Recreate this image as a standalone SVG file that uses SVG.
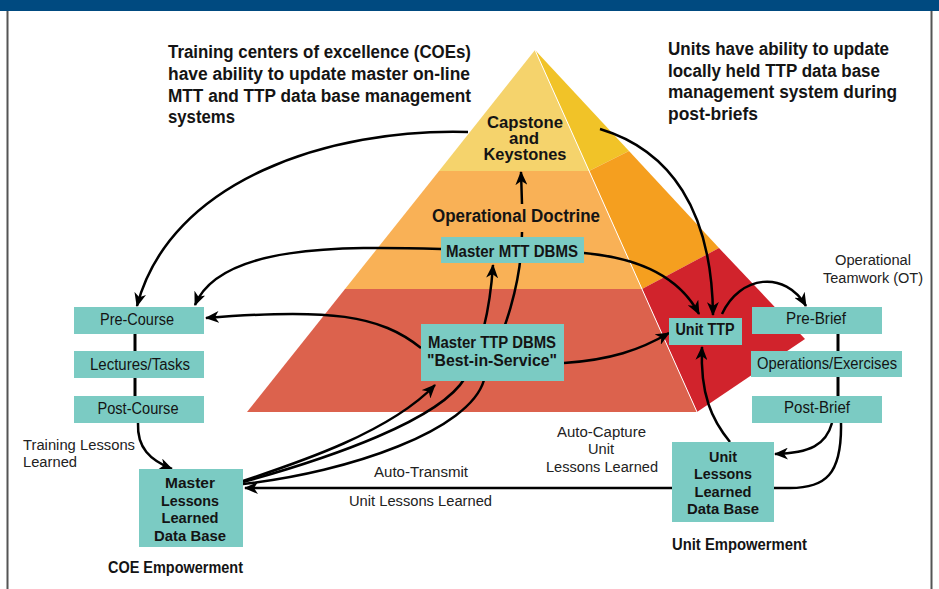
<svg xmlns="http://www.w3.org/2000/svg" width="939" height="589" viewBox="0 0 939 589">
  <defs>
    <marker id="arrow" viewBox="0 0 14 12" refX="13" refY="6" markerWidth="14" markerHeight="12" markerUnits="userSpaceOnUse" orient="auto">
      <path d="M0,0 L14,6 L0,12 L4,6 Z" fill="#000"/>
    </marker>
    <style>
      text { font-family: "Liberation Sans", Arial, sans-serif; fill: #141414; }
      .head { font-size: 18px; font-weight: bold; }
      .tier { font-size: 17px; font-weight: bold; text-anchor: middle; }
      .lbl { font-size: 16px; text-anchor: middle; }
      .lblb { font-size: 16px; font-weight: bold; text-anchor: middle; }
      .db { font-size: 15px; font-weight: bold; text-anchor: middle; }
      .note { font-size: 15.5px; fill: #222; }
      .notec { font-size: 15.5px; fill: #222; text-anchor: middle; }
      .box { fill: #7bcbc3; }
      .link { fill: none; stroke: #000; stroke-width: 2.5; }
      .arr { marker-end: url(#arrow); }
      .tie { stroke: #000; stroke-width: 3; }
    </style>
  </defs>

  <!-- page frame -->
  <rect x="0" y="0" width="939" height="589" fill="#fff"/>
  <rect x="0" y="0" width="939" height="11" fill="#004a80"/>
  <line x1="7.5" y1="11" x2="7.5" y2="589" stroke="#555" stroke-width="2"/>
  <line x1="931.5" y1="11" x2="931.5" y2="589" stroke="#555" stroke-width="2"/>

  <!-- pyramid -->
  <g id="pyramid">
    <polygon points="535,50 589,171 439,171" fill="#f5d36c"/>
    <polygon points="439,171 589,171 642,289 345,289" fill="#f9b156"/>
    <polygon points="345,289 642,289 697,412 247,412" fill="#dc624d"/>
    <polygon points="535,50 629,151 589,171" fill="#f1c328"/>
    <polygon points="589,171 629,151 719,248 642,289" fill="#f59f1f"/>
    <polygon points="642,289 719,248 805,339 697,412" fill="#d1232c"/>
    <line x1="535" y1="50" x2="697" y2="412" stroke="#fff" stroke-width="1"/>
  </g>

  <!-- headings -->
  <g id="coe-note">
    <text class="head" x="168" y="58" textLength="303" lengthAdjust="spacingAndGlyphs">Training centers of excellence (COEs)</text>
    <text class="head" x="168" y="80" textLength="302" lengthAdjust="spacingAndGlyphs">have ability to update master on-line</text>
    <text class="head" x="168" y="102" textLength="303" lengthAdjust="spacingAndGlyphs">MTT and TTP data base management</text>
    <text class="head" x="168" y="123" textLength="67" lengthAdjust="spacingAndGlyphs">systems</text>
  </g>
  <g id="unit-note">
    <text class="head" x="668" y="55" textLength="221" lengthAdjust="spacingAndGlyphs">Units have ability to update</text>
    <text class="head" x="668" y="77" textLength="212" lengthAdjust="spacingAndGlyphs">locally held TTP data base</text>
    <text class="head" x="668" y="98" textLength="229" lengthAdjust="spacingAndGlyphs">management system during</text>
    <text class="head" x="668" y="120" textLength="90" lengthAdjust="spacingAndGlyphs">post-briefs</text>
  </g>

  <g id="tier-capstone">
    <text class="tier" x="525" y="128" textLength="76" lengthAdjust="spacingAndGlyphs">Capstone</text>
    <text class="tier" x="524" y="144" textLength="30" lengthAdjust="spacingAndGlyphs">and</text>
    <text class="tier" x="525" y="160" textLength="83" lengthAdjust="spacingAndGlyphs">Keystones</text>
  </g>
  <g id="tier-doctrine">
    <text class="tier" x="516" y="222" style="font-size:18px" textLength="168" lengthAdjust="spacingAndGlyphs">Operational Doctrine</text>
  </g>

  <!-- connectors -->
  <g id="connectors">
    <path class="link arr" d="M468,132 C330,128 170,180 137,306"/>
    <path class="link arr" d="M441,249 C340,246 220,245 195,305"/>
    <path class="link arr" d="M421,348 C380,315 330,308 206,318"/>
    <path class="link arr" d="M243,481 C300,462 390,432 435,385"/>
    <path class="link arr" d="M243,482 C330,458 440,420 465,378 C480,350 490,310 493,265"/>
    <path class="link" d="M243,484 C350,472 470,430 484,380 C500,340 522,290 522,232"/>
    <path class="link arr" d="M522,204 L521,172"/>
    <path class="link arr" d="M584,253 C640,258 680,278 699,314"/>
    <path class="link arr" d="M600,129 C670,150 712,210 713,315"/>
    <path class="link arr" d="M722,314 C740,275 785,270 806,306"/>
    <path class="link arr" d="M564,363 C610,360 640,350 669,333"/>
    <path class="link arr" d="M832,423 C826,445 810,453 775,454"/>
    <path class="link arr" d="M841,423 C842,475 825,488 790,488 L245,488"/>
    <path class="link arr" d="M730,442 C712,420 700,395 702,347"/>
    <path class="link arr" d="M138,423 C137,448 150,460 172,469"/>
    <line class="tie" x1="135" y1="334" x2="135" y2="351"/>
    <line class="tie" x1="135" y1="378" x2="135" y2="396"/>
    <line class="tie" x1="838" y1="334" x2="838" y2="351"/>
    <line class="tie" x1="838" y1="377" x2="838" y2="396"/>
  </g>

  <!-- nodes -->
  <g id="master-mtt">
    <rect class="box" x="441" y="237" width="143" height="26"/>
    <text class="lblb" x="512" y="257" textLength="132" lengthAdjust="spacingAndGlyphs">Master MTT DBMS</text>
  </g>
  <g id="master-ttp">
    <rect class="box" x="421" y="324" width="143" height="57"/>
    <text class="lblb" x="492" y="348" textLength="128" lengthAdjust="spacingAndGlyphs">Master TTP DBMS</text>
    <text class="lblb" x="492" y="366" textLength="130" lengthAdjust="spacingAndGlyphs">"Best-in-Service"</text>
  </g>
  <g id="unit-ttp">
    <rect class="box" x="669" y="318" width="73" height="27"/>
    <text class="lblb" x="705" y="335" textLength="59" lengthAdjust="spacingAndGlyphs">Unit TTP</text>
  </g>
  <g id="pre-course">
    <rect class="box" x="74" y="307" width="130" height="27"/>
    <text class="lbl" x="137" y="325" textLength="74" lengthAdjust="spacingAndGlyphs">Pre-Course</text>
  </g>
  <g id="lectures">
    <rect class="box" x="74" y="351" width="130" height="27"/>
    <text class="lbl" x="140" y="370" textLength="100" lengthAdjust="spacingAndGlyphs">Lectures/Tasks</text>
  </g>
  <g id="post-course">
    <rect class="box" x="74" y="396" width="130" height="27"/>
    <text class="lbl" x="138" y="414" textLength="81" lengthAdjust="spacingAndGlyphs">Post-Course</text>
  </g>
  <g id="pre-brief">
    <rect class="box" x="752" y="307" width="130" height="27"/>
    <text class="lbl" x="816" y="324" textLength="60" lengthAdjust="spacingAndGlyphs">Pre-Brief</text>
  </g>
  <g id="operations">
    <rect class="box" x="751" y="351" width="151" height="26"/>
    <text class="lbl" x="827" y="369" textLength="140" lengthAdjust="spacingAndGlyphs">Operations/Exercises</text>
  </g>
  <g id="post-brief">
    <rect class="box" x="752" y="396" width="130" height="27"/>
    <text class="lbl" x="817" y="413" textLength="66" lengthAdjust="spacingAndGlyphs">Post-Brief</text>
  </g>
  <g id="master-lessons">
    <rect class="box" x="139" y="469" width="104" height="78"/>
    <text class="db" x="190" y="488" textLength="50" lengthAdjust="spacingAndGlyphs">Master</text>
    <text class="db" x="190" y="506" textLength="58" lengthAdjust="spacingAndGlyphs">Lessons</text>
    <text class="db" x="190" y="523" textLength="57" lengthAdjust="spacingAndGlyphs">Learned</text>
    <text class="db" x="190" y="541" textLength="72" lengthAdjust="spacingAndGlyphs">Data Base</text>
  </g>
  <g id="unit-lessons">
    <rect class="box" x="672" y="442" width="102" height="80"/>
    <text class="db" x="723" y="462" textLength="28" lengthAdjust="spacingAndGlyphs">Unit</text>
    <text class="db" x="723" y="479" textLength="58" lengthAdjust="spacingAndGlyphs">Lessons</text>
    <text class="db" x="723" y="497" textLength="57" lengthAdjust="spacingAndGlyphs">Learned</text>
    <text class="db" x="723" y="514" textLength="72" lengthAdjust="spacingAndGlyphs">Data Base</text>
  </g>

  <!-- free labels -->
  <g id="labels">
    <text class="notec" x="873" y="265" textLength="76" lengthAdjust="spacingAndGlyphs">Operational</text>
    <text class="notec" x="873" y="283" textLength="100" lengthAdjust="spacingAndGlyphs">Teamwork (OT)</text>
    <text class="note" x="23" y="450" textLength="112" lengthAdjust="spacingAndGlyphs">Training Lessons</text>
    <text class="note" x="23" y="467" textLength="54" lengthAdjust="spacingAndGlyphs">Learned</text>
    <text class="notec" x="601.5" y="437" textLength="89" lengthAdjust="spacingAndGlyphs">Auto-Capture</text>
    <text class="notec" x="601" y="454" textLength="26" lengthAdjust="spacingAndGlyphs">Unit</text>
    <text class="notec" x="602" y="472" textLength="112" lengthAdjust="spacingAndGlyphs">Lessons Learned</text>
    <text class="notec" x="421" y="477" textLength="94" lengthAdjust="spacingAndGlyphs">Auto-Transmit</text>
    <text class="notec" x="420.5" y="506" textLength="143" lengthAdjust="spacingAndGlyphs">Unit Lessons Learned</text>
    <text class="lblb" x="175.5" y="573" textLength="135" lengthAdjust="spacingAndGlyphs">COE Empowerment</text>
    <text class="lblb" x="739.5" y="550" textLength="135" lengthAdjust="spacingAndGlyphs">Unit Empowerment</text>
  </g>
</svg>
